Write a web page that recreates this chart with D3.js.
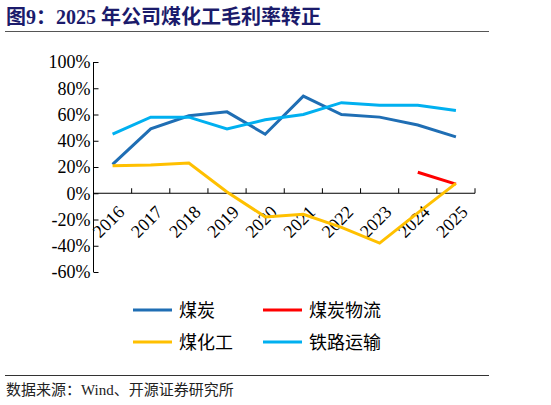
<!DOCTYPE html>
<html><head><meta charset="utf-8">
<script src="https://cdn.jsdelivr.net/npm/d3@7"></script>
<style>body{margin:0;background:#fff}text{font-family:"Liberation Serif","Noto Sans CJK SC",serif}</style>
</head><body><svg id="c" width="551" height="405"></svg>
<script>
const years = ["2016","2017","2018","2019","2020","2021","2022","2023","2024","2025"];
const coal = [22, 49, 59, 62, 45, 74, 60, 58, 52, 43];
const coalLogistics = [null, null, null, null, null, null, null, null, 16, 7];
const coalChem = [21, 21.5, 23, 1, -18, -16, -26, -38, -15, 7.5];
const railway = [45, 58, 58, 49, 56, 60, 69, 67, 67, 63];
const yTicks = [100, 80, 60, 40, 20, 0, -20, -40, -60];

const series = [
  { name: "煤炭", values: coal, color: "#1f6eb4" },
  { name: "煤炭物流", values: coalLogistics, color: "#ff0000" },
  { name: "煤化工", values: coalChem, color: "#ffc000" },
  { name: "铁路运输", values: railway, color: "#00b0f0" }
];

const svg = d3.select("#c");

// title + rules
svg.append("text").attr("x", 6).attr("y", 24).attr("fill", "#1b1b6b")
  .attr("font-size", 20).attr("font-weight", "bold").text("图9：2025 年公司煤化工毛利率转正");
svg.append("line").attr("x1", 5).attr("x2", 489).attr("y1", 31.5).attr("y2", 31.5).attr("stroke", "#555").attr("stroke-width", 1);
svg.append("line").attr("x1", 5).attr("x2", 489).attr("y1", 375.5).attr("y2", 375.5).attr("stroke", "#333").attr("stroke-width", 1);
svg.append("text").attr("x", 6).attr("y", 395).attr("font-size", 15).attr("fill", "#222")
  .text("数据来源：Wind、开源证券研究所");

const x = d3.scaleBand().domain(years).range([93.5, 475]);
const y = d3.scaleLinear().domain([-60, 100]).range([272, 62]);

// y axis
const gy = svg.append("g").attr("transform", "translate(93.5,0)")
  .call(d3.axisRight(y).tickValues(yTicks).tickSize(5).tickFormat(d => d + "%"));
gy.selectAll("text").attr("x", -3).attr("text-anchor", "end").attr("font-size", 18).attr("fill", "#000");
gy.selectAll("line,path").attr("stroke", "#000");
gy.select("path").attr("d", `M0,${y(-60)}V${y(100)}`);

// x axis at 0
const g0 = svg.append("g").attr("transform", `translate(0,${y(0)})`);
g0.append("line").attr("x1", 93.5).attr("x2", 475).attr("stroke", "#000");
years.forEach(yr => {
  const bx = x(yr) + x.bandwidth();
  g0.append("line").attr("x1", bx).attr("x2", bx).attr("y1", 0).attr("y2", -5).attr("stroke", "#000");
  g0.append("text").attr("transform", `translate(${x(yr) + x.bandwidth() / 2 + 13},${20}) rotate(-45)`)
    .attr("text-anchor", "end").attr("font-size", 18).text(yr);
});

const line = d3.line().defined(d => d != null)
  .x((d, i) => x(years[i]) + x.bandwidth() / 2).y(d => y(d));
series.forEach(s => {
  svg.append("path").attr("d", line(s.values)).attr("fill", "none")
    .attr("stroke", s.color).attr("stroke-width", 3);
});

// legend
const leg = [[133, 310], [263, 310], [133, 342], [263, 342]];
series.forEach((s, i) => {
  const [lx, ly] = leg[i];
  svg.append("line").attr("x1", lx).attr("x2", lx + 39).attr("y1", ly).attr("y2", ly)
    .attr("stroke", s.color).attr("stroke-width", 3);
  svg.append("text").attr("x", lx + 46).attr("y", ly + 7).attr("font-size", 18).text(s.name);
});
</script></body></html>
